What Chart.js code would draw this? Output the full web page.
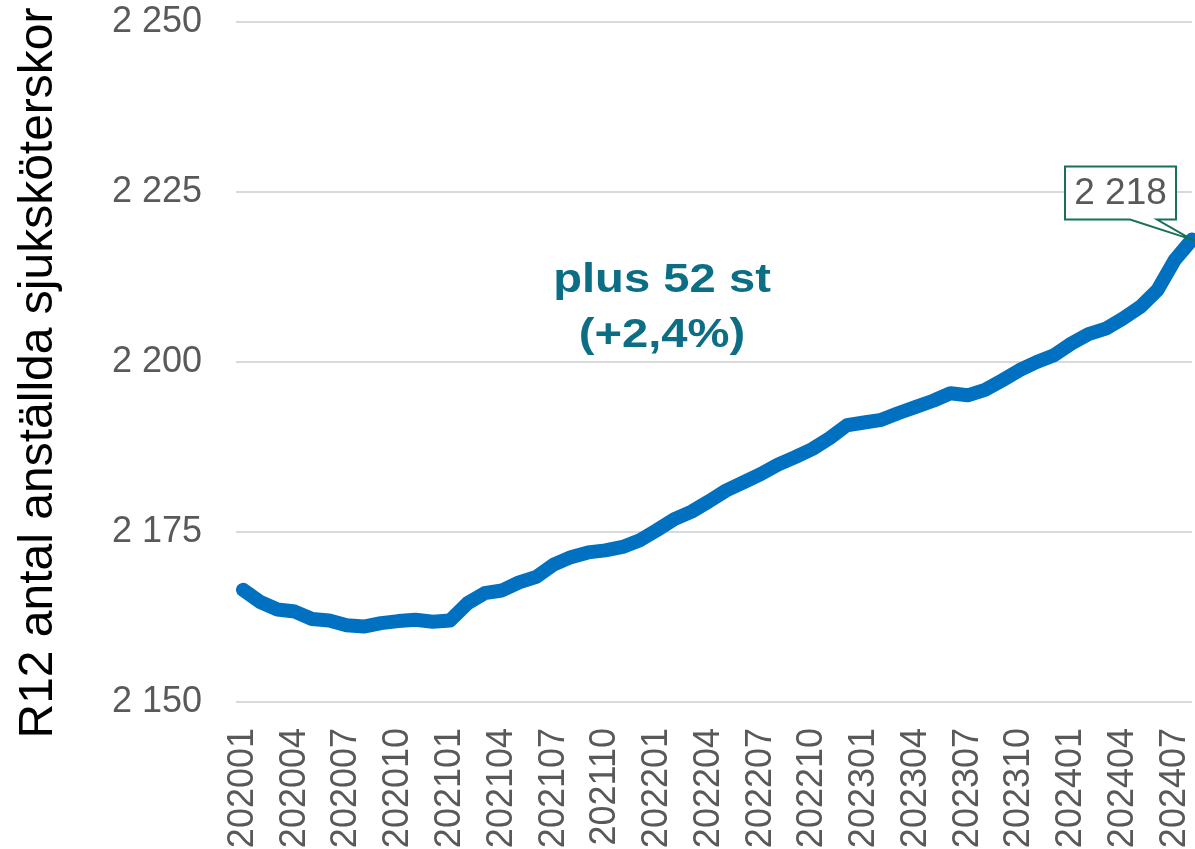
<!DOCTYPE html>
<html lang="sv">
<head>
<meta charset="utf-8">
<title>R12 antal anställda sjuksköterskor</title>
<script src="https://cdn.jsdelivr.net/npm/chart.js@4.4.1/dist/chart.umd.min.js"></script>
<style>
  html, body { margin: 0; padding: 0; background: #fff; overflow: hidden; }
  canvas { display: block; }
</style>
</head>
<body>
<canvas id="chart" width="1195" height="849"></canvas>
<script>
const months = [
  '202001', '202002', '202003', '202004', '202005', '202006', '202007', '202008', '202009', '202010', '202011', '202012',
  '202101', '202102', '202103', '202104', '202105', '202106', '202107', '202108', '202109', '202110', '202111', '202112',
  '202201', '202202', '202203', '202204', '202205', '202206', '202207', '202208', '202209', '202210', '202211', '202212',
  '202301', '202302', '202303', '202304', '202305', '202306', '202307', '202308', '202309', '202310', '202311', '202312',
  '202401', '202402', '202403', '202404', '202405', '202406', '202407', '202408'
];
const nurses = [
  2166.5, 2164.7, 2163.6, 2163.3, 2162.2, 2162.0, 2161.3, 2161.1, 2161.6, 2161.9, 2162.1, 2161.8,
  2162.0, 2164.5, 2166.0, 2166.4, 2167.6, 2168.4, 2170.2, 2171.3, 2172.0, 2172.3, 2172.8, 2173.8,
  2175.3, 2176.9, 2178.0, 2179.5, 2181.1, 2182.3, 2183.5, 2184.9, 2186.0, 2187.2, 2188.8, 2190.7,
  2191.1, 2191.5, 2192.5, 2193.4, 2194.3, 2195.4, 2195.1, 2195.9, 2197.3, 2198.8, 2200.0, 2201.0,
  2202.7, 2204.1, 2204.9, 2206.4, 2208.1, 2210.6, 2215.0, 2218.0
];
const xTickLabels = [
  '202001', '202004', '202007', '202010', '202101', '202104', '202107', '202110', '202201', '202204',
  '202207', '202210', '202301', '202304', '202307', '202310', '202401', '202404', '202407'
];
const yTicks = [2150, 2175, 2200, 2225, 2250];
const yTitle = 'R12 antal anställda sjuksköterskor';
const changeText = ['plus 52 st', '(+2,4%)'];

const FONT = '"Liberation Sans", Arial, sans-serif';
const fmt = (v) => String(Math.round(v)).replace(/\B(?=(\d{3})+(?!\d))/g, ' ');

// axis title, text annotation and callout on the last point
const annotations = {
  id: 'annotations',
  afterDatasetsDraw(chart) {
    const { ctx, scales: { x, y } } = chart;
    ctx.save();
    ctx.translate(39, 373);
    ctx.rotate(-Math.PI / 2);
    ctx.fillStyle = '#000';
    ctx.font = `48px ${FONT}`;
    ctx.textAlign = 'center';
    ctx.textBaseline = 'middle';
    ctx.fillText(yTitle, 0, 0);
    ctx.restore();

    ctx.save();
    ctx.fillStyle = '#0b6e84';
    ctx.font = `bold 40px ${FONT}`;
    ctx.textAlign = 'center';
    ctx.textBaseline = 'alphabetic';
    changeText.forEach((t, i) => {
      ctx.save();
      ctx.translate(662, 292 + i * 55);
      ctx.scale(1.18, 1);
      ctx.fillText(t, 0, 0);
      ctx.restore();
    });

    const last = nurses.length - 1;
    const px = x.getPixelForValue(last);
    const py = y.getPixelForValue(nurses[last]);
    const right = px - 16, bottom = py - 20;
    const left = right - 111, top = bottom - 53;
    ctx.beginPath();
    ctx.moveTo(left, top);
    ctx.lineTo(right, top);
    ctx.lineTo(right, bottom);
    ctx.lineTo(left + 92, bottom);
    ctx.lineTo(px, py);
    ctx.lineTo(left + 65, bottom);
    ctx.lineTo(left, bottom);
    ctx.closePath();
    ctx.fillStyle = '#fff';
    ctx.fill();
    ctx.strokeStyle = '#17705a';
    ctx.lineWidth = 2;
    ctx.stroke();
    ctx.fillStyle = '#595959';
    ctx.font = `37px ${FONT}`;
    ctx.textBaseline = 'middle';
    ctx.fillText(fmt(nurses[last]), (left + right) / 2, (top + bottom) / 2 + 1);
    ctx.restore();
  }
};

new Chart(document.getElementById('chart'), {
  type: 'line',
  data: {
    labels: months,
    datasets: [{
      data: nurses,
      borderColor: '#0070c0',
      borderWidth: 14,
      borderJoinStyle: 'round',
      borderCapStyle: 'round',
      pointRadius: 0,
      tension: 0,
      clip: 20
    }]
  },
  options: {
    responsive: false,
    animation: false,
    layout: { padding: 0 },
    plugins: { legend: { display: false }, tooltip: { enabled: false } },
    scales: {
      x: {
        grid: { display: false, drawTicks: false },
        border: { display: false },
        ticks: {
          autoSkip: false, minRotation: 90, maxRotation: 90, padding: 26,
          color: '#595959', font: { family: FONT, size: 36 },
          callback: (v, i) => xTickLabels.includes(months[i]) ? months[i] : null
        },
        afterFit: (scale) => { scale.height = 147; scale.paddingLeft = 0; scale.paddingRight = 3; }
      },
      y: {
        min: yTicks[0],
        max: yTicks[yTicks.length - 1],
        afterBuildTicks: (scale) => { scale.ticks = yTicks.map((value) => ({ value })); },
        grid: { color: '#d9d9d9', lineWidth: 2, drawTicks: true, tickLength: 7 },
        border: { display: false },
        ticks: { padding: 34, color: '#595959', font: { family: FONT, size: 36 }, callback: (v) => fmt(v) },
        afterFit: (scale) => { scale.width = 243; scale.paddingTop = 22; scale.paddingBottom = 0; }
      }
    }
  },
  plugins: [annotations]
});
</script>
</body>
</html>
